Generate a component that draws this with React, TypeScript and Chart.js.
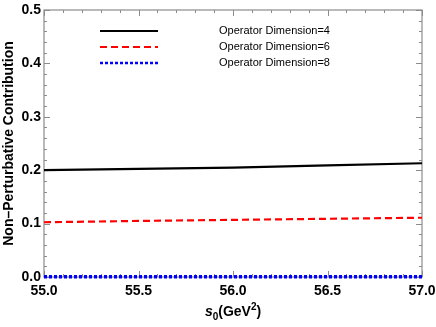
import React, { useEffect, useRef } from "react";
import { Chart, registerables } from "chart.js";

Chart.register(...registerables);

const s0Values = [55.0, 55.5, 56.0, 56.5, 57.0];
const dim4 = [0.2, 0.2025, 0.205, 0.209, 0.213];
const dim6 = [0.1025, 0.105, 0.107, 0.109, 0.111];
const dim8 = [0.0005, 0.0005, 0.0005, 0.0005, 0.0005];
const seriesLabels = ["Operator Dimension=4", "Operator Dimension=6", "Operator Dimension=8"];
const xTicks = [55.0, 55.5, 56.0, 56.5, 57.0];
const yTicks = [0.0, 0.1, 0.2, 0.3, 0.4, 0.5];

const FRAME = "#8c8c8c";
const FONT = "'Liberation Sans', Arial, sans-serif";

const framePlugin = {
  id: "frameTicks",
  beforeDatasetsDraw(chart: any) {
    const { ctx, chartArea: a, scales } = chart;
    const xs = scales.x;
    const ys = scales.y;
    ctx.save();
    ctx.strokeStyle = FRAME;
    ctx.lineWidth = 1;
    for (let i = 0; i <= 20; i++) {
      const v = 55 + i * 0.1;
      const px = Math.round(xs.getPixelForValue(v)) + 0.5;
      const len = i % 5 === 0 ? 6 : 3;
      ctx.beginPath();
      ctx.moveTo(px, a.bottom);
      ctx.lineTo(px, a.bottom - len);
      ctx.moveTo(px, a.top);
      ctx.lineTo(px, a.top + len);
      ctx.stroke();
    }
    for (let i = 0; i <= 25; i++) {
      const v = i * 0.02;
      const py = Math.round(ys.getPixelForValue(v)) + 0.5;
      const len = i % 5 === 0 ? 6 : 3;
      ctx.beginPath();
      ctx.moveTo(a.left, py);
      ctx.lineTo(a.left + len, py);
      ctx.moveTo(a.right, py);
      ctx.lineTo(a.right - len, py);
      ctx.stroke();
    }
    ctx.lineWidth = 1.2;
    ctx.strokeRect(a.left, a.top, a.right - a.left, a.bottom - a.top);
    ctx.restore();
  },
  afterDraw(chart: any) {
    const { ctx, chartArea: a } = chart;
    ctx.save();
    const ds = chart.data.datasets;
    const rows = [31, 47, 63];
    ds.forEach((d: any, i: number) => {
      ctx.strokeStyle = d.borderColor;
      ctx.lineWidth = Math.min(d.borderWidth, 2.6);
      ctx.setLineDash(d.borderDash || []);
      ctx.beginPath();
      ctx.moveTo(100, rows[i]);
      ctx.lineTo(158, rows[i]);
      ctx.stroke();
      ctx.setLineDash([]);
      ctx.fillStyle = "#000";
      ctx.font = `11px ${FONT}`;
      ctx.textAlign = "left";
      ctx.textBaseline = "middle";
      ctx.fillText(d.label, 219, rows[i]);
    });
    ctx.save();
    ctx.translate(9, (a.top + a.bottom) / 2);
    ctx.rotate(-Math.PI / 2);
    ctx.font = `bold 14px ${FONT}`;
    ctx.textAlign = "center";
    ctx.textBaseline = "middle";
    ctx.fillStyle = "#000";
    ctx.fillText("Non\u2013Perturbative Contribution", 0, 0);
    ctx.restore();
    const base = 316;
    const parts: [string, string, number][] = [
      ["s", `italic bold 14px ${FONT}`, 0],
      ["0", `bold 10px ${FONT}`, 4],
      ["(GeV", `bold 14px ${FONT}`, 0],
      ["2", `bold 10px ${FONT}`, -6],
      [")", `bold 14px ${FONT}`, 0],
    ];
    let total = 0;
    parts.forEach((p) => {
      ctx.font = p[1];
      total += ctx.measureText(p[0]).width;
    });
    let x = (a.left + a.right) / 2 - total / 2;
    ctx.textAlign = "left";
    ctx.textBaseline = "alphabetic";
    ctx.fillStyle = "#000";
    parts.forEach((p) => {
      ctx.font = p[1];
      ctx.fillText(p[0], x, base + p[2]);
      x += ctx.measureText(p[0]).width;
    });
    ctx.restore();
  },
};

export default function App() {
  const ref = useRef<HTMLCanvasElement>(null);
  useEffect(() => {
    document.body.style.margin = "0";
    const chart = new Chart(ref.current!, {
      type: "line",
      data: {
        datasets: [
          {
            label: seriesLabels[0],
            data: s0Values.map((x, i) => ({ x, y: dim4[i] })),
            borderColor: "#000000",
            borderWidth: 2.2,
            pointRadius: 0,
            borderDash: [],
            clip: false,
          },
          {
            label: seriesLabels[1],
            data: s0Values.map((x, i) => ({ x, y: dim6[i] })),
            borderColor: "#ff0000",
            borderWidth: 2.2,
            pointRadius: 0,
            borderDash: [7, 4],
            clip: false,
          },
          {
            label: seriesLabels[2],
            data: s0Values.map((x, i) => ({ x, y: dim8[i] })),
            borderColor: "#0000ff",
            borderWidth: 3.5,
            pointRadius: 0,
            borderDash: [3, 2],
            clip: false,
          },
        ],
      },
      options: {
        animation: false,
        responsive: false,
        layout: { padding: { top: 10, right: 14, left: 0, bottom: 0 } },
        plugins: { legend: { display: false }, tooltip: { enabled: false } },
        scales: {
          x: {
            type: "linear",
            min: 55,
            max: 57,
            afterFit: (s: any) => {
              s.height = 50;
              s.paddingLeft = 0;
              s.paddingRight = 0;
            },
            afterBuildTicks: (s: any) => {
              s.ticks = xTicks.map((v) => ({ value: v }));
            },
            grid: { display: false, drawTicks: false },
            border: { display: false },
            ticks: {
              padding: 6,
              color: "#000",
              font: { family: FONT, size: 14, weight: "bold" },
              callback: (v: any) => Number(v).toFixed(1),
              maxRotation: 0,
              autoSkip: false,
            },
          },
          y: {
            type: "linear",
            min: 0,
            max: 0.5,
            afterFit: (s: any) => {
              s.width = 44;
              s.paddingTop = 0;
              s.paddingBottom = 0;
            },
            afterBuildTicks: (s: any) => {
              s.ticks = yTicks.map((v) => ({ value: v }));
            },
            grid: { display: false, drawTicks: false },
            border: { display: false },
            ticks: {
              padding: 3,
              color: "#000",
              font: { family: FONT, size: 14, weight: "bold" },
              callback: (v: any) => Number(v).toFixed(1),
              autoSkip: false,
            },
          },
        },
      },
      plugins: [framePlugin],
    } as any);
    return () => chart.destroy();
  }, []);
  return (
    <div style={{ width: 436, height: 327 }}>
      <canvas ref={ref} width={436} height={327} style={{ width: 436, height: 327, display: "block" }} />
    </div>
  );
}
